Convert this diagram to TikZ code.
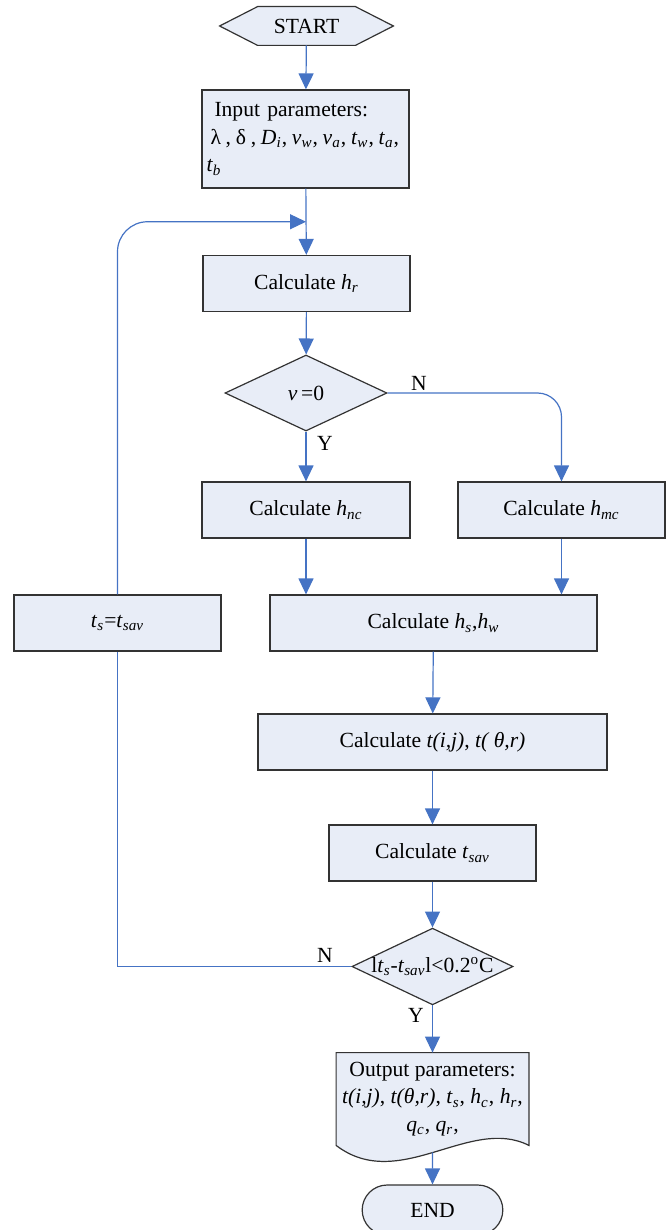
\documentclass[tikz,border=0pt]{standalone}
\usepackage{fontspec}
\setmainfont{Liberation Serif}
\usetikzlibrary{shapes.geometric, shapes.misc, arrows.meta, calc, backgrounds}
\definecolor{boxfill}{rgb}{0.91, 0.93, 0.97}
\definecolor{flowblue}{rgb}{0.27, 0.45, 0.77}
\definecolor{boxline}{rgb}{0.2, 0.2, 0.2}
\newcommand{\vsub}[2]{\textit{#1}\textsubscript{\textit{#2}}}

\begin{document}
\begin{tikzpicture}[x=0.5pt, y=-0.5pt, >={Triangle[length=8pt,width=7.5pt]},
    font=\fontsize{10.8}{13.8}\selectfont]
    \tikzset{
        box/.style={rectangle, draw=boxline, fill=boxfill, line width=0.6pt,
            minimum width=103.5pt, minimum height=28pt, inner sep=2pt},
        decision/.style={diamond, draw=boxline, fill=boxfill, line width=0.6pt,
            aspect=2.1, inner sep=0pt, minimum width=81pt, minimum height=38pt},
        flow/.style={draw=flowblue, line width=0.6pt, ->},
        yn/.style={inner sep=0pt}
    }
    \useasboundingbox (0,0) rectangle (669,1230);
    \clip (0,0) rectangle (669,1230);

    % Terminals
    \node (start) [minimum width=48.5pt, minimum height=19pt, inner sep=0pt] at (306.5,26) {START};
    \node (end) [rounded rectangle, draw=boxline, fill=boxfill, line width=0.6pt,
        minimum width=77pt, minimum height=25pt] at (432.5,1210) {END};

    % Input
    \node (input) [box, minimum height=49pt, text width=99pt, inner xsep=1.5pt, align=left] at (305.5,139)
        {\hspace*{4pt}Input parameters:\\
         \mbox{\spaceskip=0.22em\hspace*{2pt}λ , δ , \vsub{D}{i}, \vsub{v}{w}, \vsub{v}{a}, \vsub{t}{w}, \vsub{t}{a},}\\
         \vsub{t}{b}};

    % Main column
    \node (calchr) [box] at (306.5,283.5) {Calculate \vsub{h}{r}};
    \node (vzero) [decision] at (306,393) {\textit{v}\,=0};
    \node (calchnc) [box, minimum width=104pt] at (306,510) {Calculate \vsub{h}{nc}};
    \node (calchmc) [box] at (561.5,510) {Calculate \vsub{h}{mc}};
    \node (calchs) [box, minimum width=163.5pt] at (433.5,623) {Calculate \vsub{h}{s},\vsub{h}{w}};
    \node (tseq) [box] at (117.5,623) {\vsub{t}{s}=\vsub{t}{sav}};
    \node (calct) [box, minimum width=174.5pt] at (432.5,742) {Calculate \textit{t(i,j)}, \textit{t( θ,r)}};
    \node (calctsav) [box] at (432.5,853) {Calculate \vsub{t}{sav}};
    \node (conv) [decision, minimum width=80.5pt, minimum height=37.5pt] at (432.5,966.5)
        {l\vsub{t}{s}\textit{-}\vsub{t}{sav}l<0.2\textsuperscript{o}C};

    % Output
    \node (out) [minimum width=96pt, minimum height=46pt, inner sep=0pt, align=center] at (432.5,1099)
        {Output parameters:\\
         \textit{t(i,j)}, \textit{t(θ,r)}, \vsub{t}{s}, \vsub{h}{c}, \vsub{h}{r},\\
         \vsub{q}{c}, \vsub{q}{r},};
    \coordinate (outbot) at ($(out.south)+(0,7)$);

    % Outlines behind the text
    \begin{scope}[on background layer]
        \draw[boxline, fill=boxfill, line width=0.6pt]
            (start.north west) -- (start.north east) -- ($(start.east)+(38,0)$)
            -- (start.south east) -- (start.south west) -- ($(start.west)+(-38,0)$) -- cycle;
        \draw[boxline, fill=boxfill, line width=0.6pt]
            (out.south west) -- (out.north west) -- (out.north east) -- (out.south east)
            .. controls +(-59,-30) and +(63,48) .. (out.south west) -- cycle;
    \end{scope}

    % Connectors
    \draw[flow] (start) -- (input);
    \draw[flow] (input) -- (calchr);
    \draw[flow] (calchr) -- (vzero);
    \draw[flow] (vzero) -- (calchnc);
    \draw[flow, rounded corners=12pt] (vzero.east) -| (calchmc.north);
    \draw[flow] (calchnc) -- (calchnc |- calchs.north);
    \draw[flow] (calchmc) -- (calchmc |- calchs.north);
    \draw[flow] (calchs) -- (calct);
    \draw[flow] (calct) -- (calctsav);
    \draw[flow] (calctsav) -- (conv);
    \draw[flow] (conv) -- (out);
    \draw[flow] (outbot) -- (end);

    % Loop back
    \coordinate (join) at ($(input.south)!0.5!(calchr.north)$);
    \draw[draw=flowblue, line width=0.9pt] (conv.west) -| (tseq.south);
    \draw[flow, rounded corners=15pt] (tseq.north) |- (join);

    % Branch labels
    \node (n1) [yn] at (419,383) {N};
    \node (y1) [yn] at (325,443) {Y};
    \node (n2) [yn] at (325,955) {N};
    \node (y2) [yn] at (416,1015) {Y};
\end{tikzpicture}
\end{document}
